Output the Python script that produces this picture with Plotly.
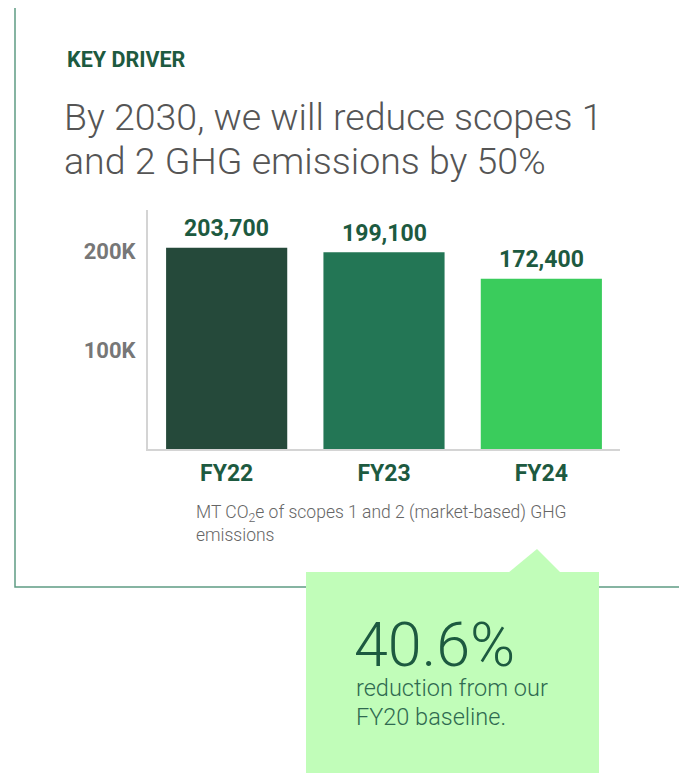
import plotly.graph_objects as go

categories = ["FY22", "FY23", "FY24"]
values = [203700, 199100, 172400]
value_labels = ["203,700", "199,100", "172,400"]
bar_colors = ["#25493a", "#237655", "#3acc5c"]
tick_vals = [100000, 200000]
tick_text = ["100K", "200K"]

# page body has an 8px margin; figure sized to fit the 687x773 window
OFF = 8
W, H = 687 - OFF, 773 - OFF
L, R, T, B = 148 - OFF, 620 - OFF, 210 - OFF, 449 - OFF  # plot area (figure px)


def px(x):
    """screen x (window pixels) -> paper x"""
    return (x - OFF - L) / (R - L)


def py(y):
    """screen y (window pixels) -> paper y"""
    return (B - (y - OFF)) / (B - T)


dark_green = "#1d5a40"

fig = go.Figure()
fig.add_trace(go.Bar(
    x=categories, y=values, marker_color=bar_colors, marker_line_width=0,
    width=0.77, hoverinfo="skip",
))

annotations = []
for c, v, t in zip(categories, values, value_labels):
    annotations.append(dict(
        x=c, y=v, xref="x", yref="y", text=t, showarrow=False,
        yanchor="middle", yshift=19,
        font=dict(family="Roboto", size=23, color=dark_green, weight=700),
    ))


def txt(x, y, text, size, color, weight, anchor="left"):
    return dict(x=px(x), y=py(y), xref="paper", yref="paper", text=text,
                showarrow=False, xanchor=anchor, yanchor="middle", align="left",
                font=dict(family="Roboto", size=size, color=color, weight=weight))


annotations += [
    txt(65, 59, "KEY DRIVER", 21.5, dark_green, 700),
    txt(62, 117, "By 2030, we will reduce scopes 1", 37.5, "#555555", 300),
    txt(62, 161, "and 2 GHG emissions by 50%", 37.5, "#555555", 300),
    txt(194, 513, "MT CO<sub>2</sub>e of scopes 1 and 2 (market-based) GHG", 17.5, "#666666", 300),
    txt(194, 535, "emissions", 17.5, "#666666", 300),
    txt(352, 645, "40.6%", 61, dark_green, 300),
    txt(354, 688, "reduction from our", 23.5, "#2f6a50", 300),
    txt(354, 717, "FY20 baseline.", 23.5, "#2f6a50", 300),
]

callout = "#c1fdb9"
shapes = [
    dict(type="rect", xref="paper", yref="paper",
         x0=px(15), x1=px(720), y0=py(3), y1=py(587),
         line=dict(color="#5f9c84", width=1.5), fillcolor="rgba(0,0,0,0)",
         layer="above"),
    dict(type="rect", xref="paper", yref="paper",
         x0=px(306), x1=px(599), y0=py(572), y1=py(800),
         line=dict(width=0), fillcolor=callout, layer="above"),
    dict(type="path", xref="paper", yref="paper",
         path=f"M {px(508)},{py(573)} L {px(537)},{py(549)} L {px(561)},{py(573)} Z",
         line=dict(width=0), fillcolor=callout, layer="above"),
]

fig.update_layout(
    width=W, height=H,
    margin=dict(l=L, r=W - R, t=T, b=H - B, pad=0),
    paper_bgcolor="white", plot_bgcolor="white",
    showlegend=False,
    annotations=annotations, shapes=shapes,
    font=dict(family="Roboto"),
    xaxis=dict(
        range=[-0.5, 2.5], showline=True, linecolor="#d4d4d4", linewidth=2,
        showgrid=False, zeroline=False, ticks="",
        tickfont=dict(family="Roboto", size=23, color=dark_green, weight=700),
        ticklabelstandoff=2, fixedrange=True,
    ),
    yaxis=dict(
        range=[0, 242000], showline=True, linecolor="#d4d4d4", linewidth=2,
        showgrid=False, zeroline=False, ticks="",
        tickvals=tick_vals, ticktext=tick_text,
        tickfont=dict(family="Roboto", size=22, color="#777777", weight=700),
        ticklabelstandoff=6, fixedrange=True,
    ),
)

fig.write_html("out.html")
